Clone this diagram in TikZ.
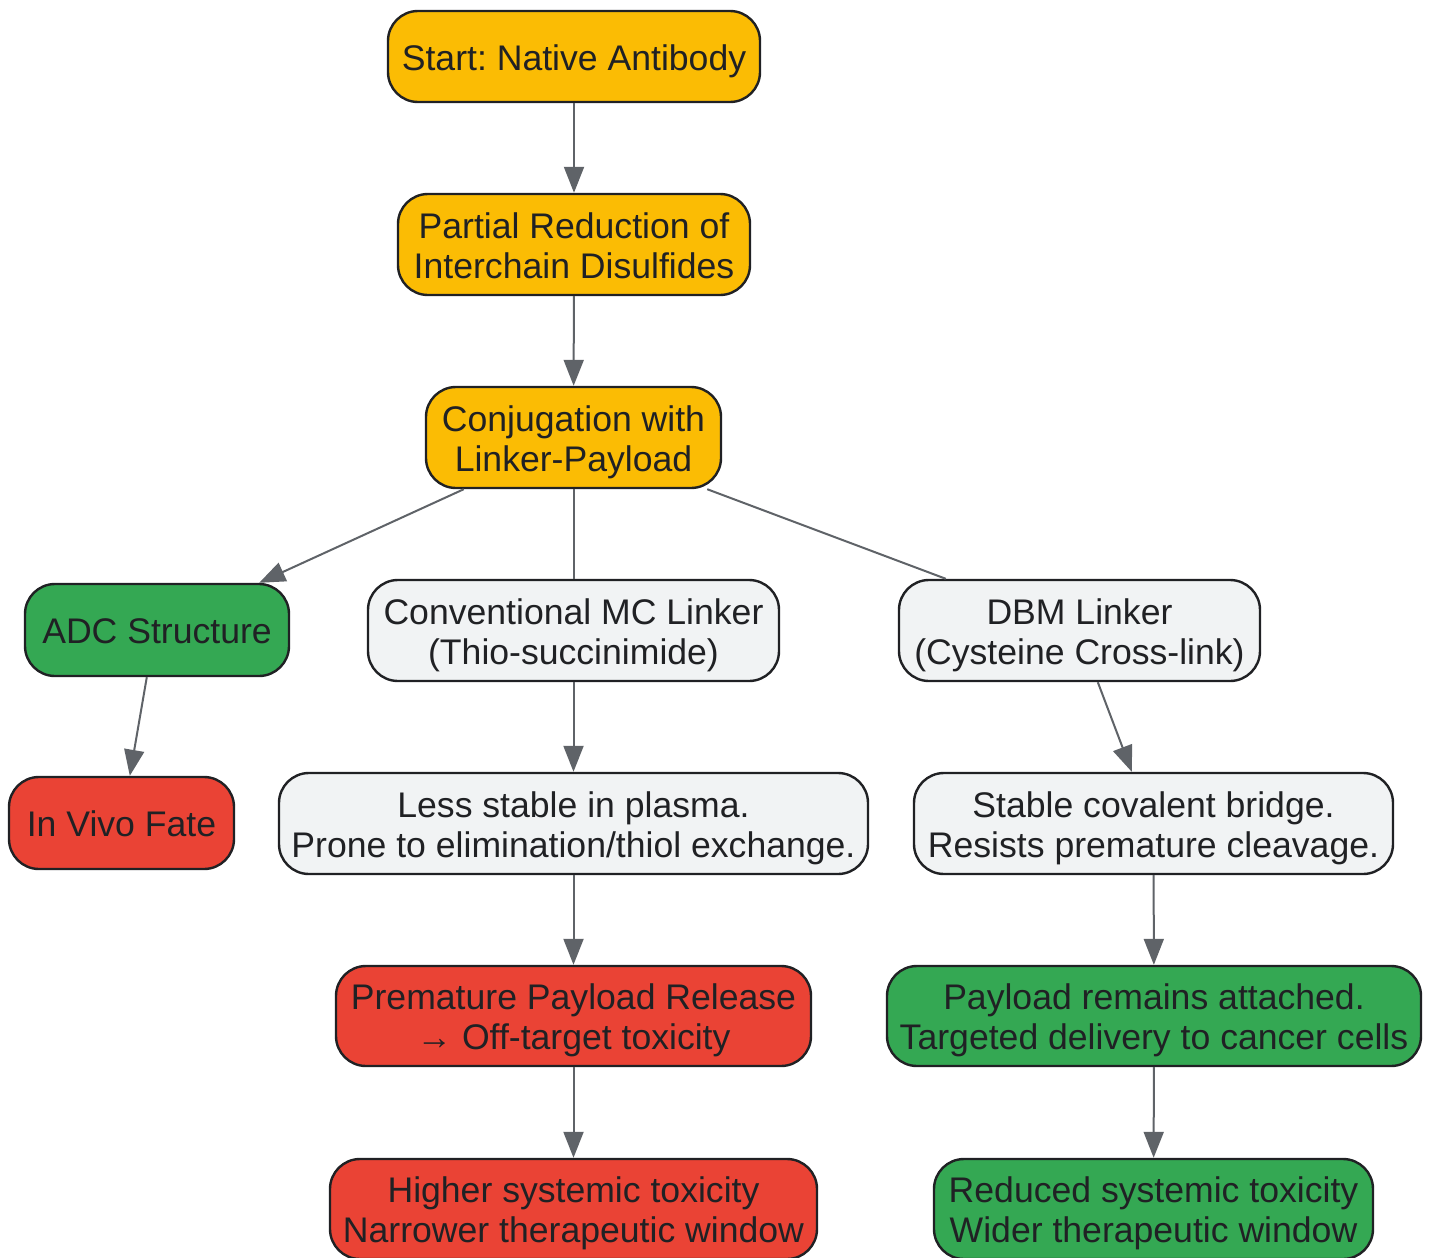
\documentclass[tikz,border=0pt]{standalone}
\usepackage{fontspec}
\setmainfont{Liberation Sans}
\usetikzlibrary{arrows.meta,calc}
\frenchspacing
\definecolor{ylw}{HTML}{FBBC04}
\definecolor{grn}{HTML}{34A853}
\definecolor{rd}{HTML}{EA4335}
\definecolor{gry}{HTML}{F1F3F4}
\definecolor{bord}{HTML}{202124}
\definecolor{edgec}{HTML}{5F6368}
\newcommand\nodefont{\fontsize{17.8}{20}\selectfont\frenchspacing}
\tikzset{
  box/.style={draw=bord, line width=1.2pt, rounded corners=15pt, align=center,
    inner sep=0pt, font=\nodefont, text=bord,
    execute at begin node={\rule{0pt}{18pt}},
    execute at end node={\rule[-4.5pt]{0pt}{4.5pt}}},
  twoline/.style={execute at begin node={\rule{0pt}{38pt}}},
  yb/.style={box, fill=ylw},
  gb/.style={box, fill=grn},
  rb/.style={box, fill=rd},
  wb/.style={box, fill=gry},
  conn/.style={draw=edgec, line width=1pt},
  arr/.style={conn, -{Triangle[length=13pt,width=10pt]}},
}
\begin{document}
\begin{tikzpicture}[x=0.5pt,y=-0.5pt]
\useasboundingbox (0,0) rectangle (1430,1258);
\node[yb, minimum width=186pt, minimum height=45.5pt] (start) at (574,56.5) {Start: Native Antibody};
\node[yb, twoline, minimum width=176pt, minimum height=50.5pt] (partial) at (574,244.5) {Partial Reduction of\\Interchain Disulfides};
\node[yb, twoline, minimum width=147.5pt, minimum height=50.5pt] (conj) at (573.5,437.5) {Conjugation with\\Linker-Payload};
\node[gb, minimum width=132pt, minimum height=46pt] (adc) at (157,630) {ADC Structure};
\node[wb, twoline, minimum width=205.5pt, minimum height=50.5pt] (conv) at (573.5,630.5) {Conventional MC Linker\\(Thio-succinimide)};
\node[wb, twoline, minimum width=180.5pt, minimum height=50.5pt] (dbm) at (1079.5,630.5) {DBM Linker\\(Cysteine Cross-link)};
\node[rb, minimum width=112.5pt, minimum height=46pt] (vivo) at (121.5,823) {In Vivo Fate};
\node[wb, twoline, minimum width=294.5pt, minimum height=50.5pt] (less) at (573.5,823.5) {Less stable in plasma.\\Prone to elimination/thiol exchange.};
\node[wb, twoline, minimum width=239.5pt, minimum height=50.5pt] (stable) at (1153.5,823.5) {Stable covalent bridge.\\Resists premature cleavage.};
\node[rb, twoline, minimum width=237.5pt, minimum height=50pt] (prem) at (573.5,1016) {Premature Payload Release\\→ Off-target toxicity};
\node[gb, twoline, minimum width=267pt, minimum height=50pt] (payload) at (1154,1016) {Payload remains attached.\\Targeted delivery to cancer cells};
\node[rb, twoline, minimum width=243.5pt, minimum height=50pt] (higher) at (573.5,1209) {Higher systemic toxicity\\Narrower therapeutic window};
\node[gb, twoline, minimum width=219.5pt, minimum height=50pt] (reduced) at (1153.5,1209) {Reduced systemic toxicity\\Wider therapeutic window};

\draw[arr] (start) -- (partial);
\draw[arr] (partial) -- (conj);
\draw[arr] ($(conj.south west)+(39,0)$) -- ($(adc.north east)+(-31,0)$);
\draw[conn] (conj.south) -- (conv.north);
\draw[conn] ($(conj.south east)+(-15,0)$) -- ($(dbm.north west)+(48,0)$);
\draw[arr] ($(adc.south west)+(123,0)$) -- ($(vivo.north west)+(122,0)$);
\draw[arr] (conv) -- (less);
\draw[arr] ($(dbm.south west)+(200,0)$) -- ($(stable.north west)+(219,0)$);
\draw[arr] (less) -- (prem);
\draw[arr] (prem) -- (higher);
\draw[arr] (stable) -- (payload);
\draw[arr] (payload) -- (reduced);
\end{tikzpicture}
\end{document}
